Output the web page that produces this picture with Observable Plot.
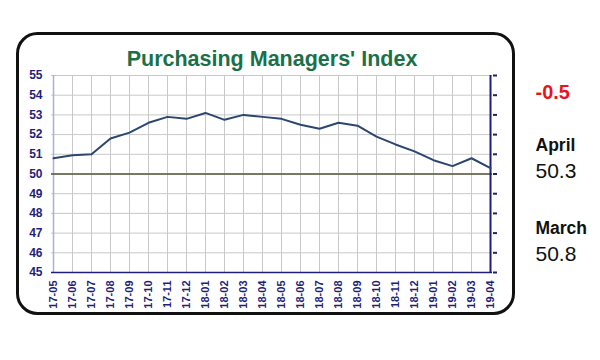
<!DOCTYPE html>
<html>
<head>
<meta charset="utf-8">
<script src="https://cdn.jsdelivr.net/npm/d3@7"></script>
<script src="https://cdn.jsdelivr.net/npm/@observablehq/plot@0.6"></script>
<style>
  html, body { margin: 0; padding: 0; background: #fff; }
  #chart svg { display: block; }
</style>
</head>
<body>
<div id="chart"></div>
<script>
const months = ["17-05","17-06","17-07","17-08","17-09","17-10","17-11","17-12",
  "18-01","18-02","18-03","18-04","18-05","18-06","18-07","18-08","18-09","18-10",
  "18-11","18-12","19-01","19-02","19-03","19-04"];
const pmi = [50.8, 50.95, 51.0, 51.8, 52.1, 52.6, 52.9, 52.8,
  53.1, 52.75, 53.0, 52.9, 52.8, 52.5, 52.3, 52.6, 52.45, 51.9,
  51.5, 51.15, 50.7, 50.4, 50.8, 50.3];
const yTicks = [45, 46, 47, 48, 49, 50, 51, 52, 53, 54, 55];
const titleText = "Purchasing Managers' Index";
const changeText = "-0.5";
const sideLabels = [["April", "50.3"], ["March", "50.8"]];

const data = months.map((m, i) => ({month: m, value: pmi[i]}));
const navy = "#1f1f7a";
const font = "Liberation Sans, Arial, sans-serif";

const side = (txt, dy, opts) => Plot.text([txt], {frameAnchor: "top-right", dx: 43, dy, text: d => d,
  textAnchor: "start", lineAnchor: "middle", ...opts});

const chart = Plot.plot({
  width: 600,
  height: 360,
  marginLeft: 51,
  marginRight: 108,
  marginTop: 75,
  marginBottom: 88,
  style: {fontFamily: font, background: "#fff"},
  x: {type: "point", domain: months, padding: 0},
  y: {domain: [45, 55], ticks: yTicks},
  marks: [
    Plot.frame({rx: 20, stroke: "#111", strokeWidth: 3, fill: "none",
      insetLeft: -34, insetRight: -21, insetTop: -42, insetBottom: -41}),
    Plot.gridX({stroke: "#c8c8c8", strokeOpacity: 1}),
    Plot.gridY(yTicks, {stroke: "#c8c8c8", strokeOpacity: 1}),
    Plot.ruleX([months[0]], {stroke: "#aab0d4", strokeWidth: 1.5}),
    Plot.ruleY([50], {stroke: "#55553a", strokeWidth: 1.5}),
    Plot.ruleY([45], {stroke: navy, strokeWidth: 1.5}),
    Plot.ruleX([months[months.length - 1]], {stroke: navy, strokeWidth: 2}),
    Plot.axisY(yTicks, {anchor: "right", tickSize: 4, tickFormat: () => "", stroke: navy, strokeWidth: 2, label: null}),
    Plot.axisY(yTicks, {anchor: "left", tickSize: 0, tickPadding: 9, fill: navy, fontWeight: "bold", fontSize: 12, label: null}),
    Plot.axisX({tickRotate: -90, tickSize: 0, tickPadding: 8, fill: navy, fontWeight: "bold", fontSize: 11, label: null}),
    Plot.line(data, {x: "month", y: "value", stroke: "#2b4670", strokeWidth: 2}),
    Plot.text([titleText], {frameAnchor: "top", dy: -16, lineAnchor: "middle", text: d => d, fill: "#1a7048",
      fontSize: 21.5, fontWeight: "bold"}),
    side(changeText, 17, {fill: "#e8141b", fontSize: 20, fontWeight: "bold"}),
    side(sideLabels[0][0], 70, {fill: "#111", fontSize: 17.5, fontWeight: "bold"}),
    side(sideLabels[0][1], 96, {fill: "#111", fontSize: 21}),
    side(sideLabels[1][0], 153, {fill: "#111", fontSize: 17.5, fontWeight: "bold"}),
    side(sideLabels[1][1], 179, {fill: "#111", fontSize: 21})
  ]
});
document.getElementById("chart").appendChild(chart);
</script>
</body>
</html>
